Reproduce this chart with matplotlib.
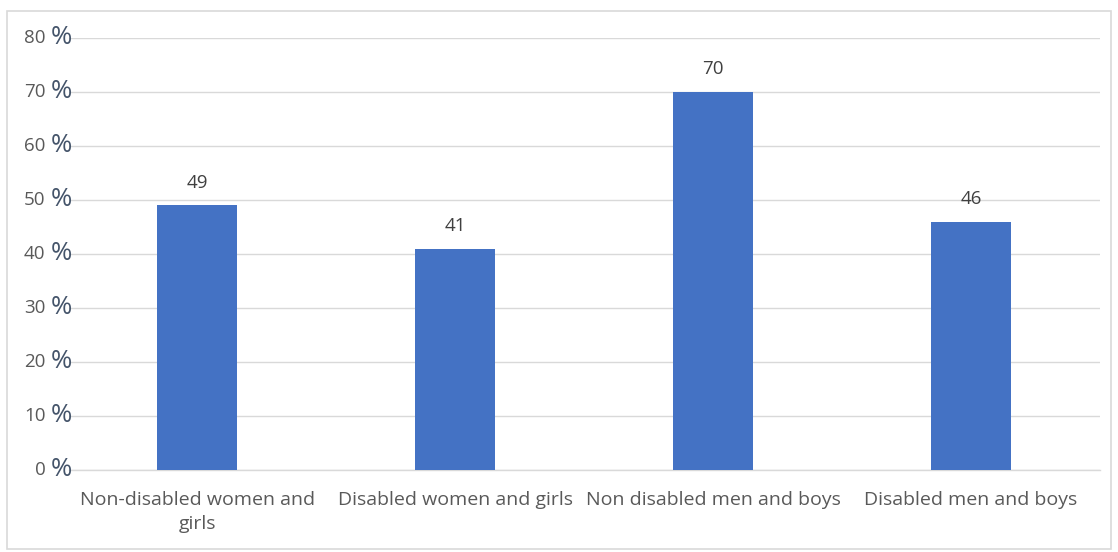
import matplotlib
matplotlib.use("Agg")
import matplotlib.pyplot as plt
from matplotlib.patches import Rectangle
import matplotlib.transforms as mtransforms

categories = ["Non-disabled women and\ngirls", "Disabled women and girls",
              "Non disabled men and boys", "Disabled men and boys"]
values = [49, 41, 70, 46]
yticks = [0, 10, 20, 30, 40, 50, 60, 70, 80]

plt.rcParams['font.family'] = ['Open Sans', 'DejaVu Sans']

fig = plt.figure(figsize=(11.18, 5.52), dpi=100)
ax = fig.add_axes([68.5/1118, 1 - 470/552, (1100 - 68.5)/1118, (470 - 38)/552])

x = list(range(len(categories)))
ax.bar(x, values, width=0.31, color="#4472C4", zorder=3)
ax.set_xlim(-0.5, len(categories) - 0.5)
ax.set_ylim(0, 80)
ax.set_yticks(yticks)
ax.yaxis.grid(True, color="#D9D9D9", linewidth=1, zorder=0)
ax.set_yticklabels([])
ax.tick_params(axis='y', length=0)
ax.tick_params(axis='x', length=0, pad=15)
ax.set_xticks(x)
ax.set_xticklabels(categories, fontsize=14, color="#595959", linespacing=1.45)
for s in ["top", "right", "left"]:
    ax.spines[s].set_visible(False)
ax.spines["bottom"].set_color("#D9D9D9")
ax.spines["bottom"].set_linewidth(1)

# y tick labels: gray number + dark percent sign
for t in yticks:
    tr = ax.get_yaxis_transform()
    off_pct = mtransforms.offset_copy(tr, fig=fig, x=2.8, y=0.5, units='points')
    ax.text(0, t, "%", transform=off_pct, ha="right", va="center",
            fontsize=18.5, color="#44546A", zorder=4)
    off_num = mtransforms.offset_copy(tr, fig=fig, x=-16.5, y=0, units='points')
    ax.text(0, t, str(t), transform=off_num, ha="right", va="center",
            fontsize=13.5, color="#595959")

for xi, v in zip(x, values):
    ax.annotate(str(v), (xi, v), xytext=(0, 10), textcoords="offset points",
                ha="center", va="bottom", fontsize=13.5, color="#404040")

fig.patches.append(Rectangle((7/1118, 1 - 549/552), (1111 - 7)/1118, (549 - 11)/552,
                             transform=fig.transFigure, fill=False,
                             edgecolor="#D9D9D9", linewidth=1.2))

fig.savefig("out.png", dpi=100)
